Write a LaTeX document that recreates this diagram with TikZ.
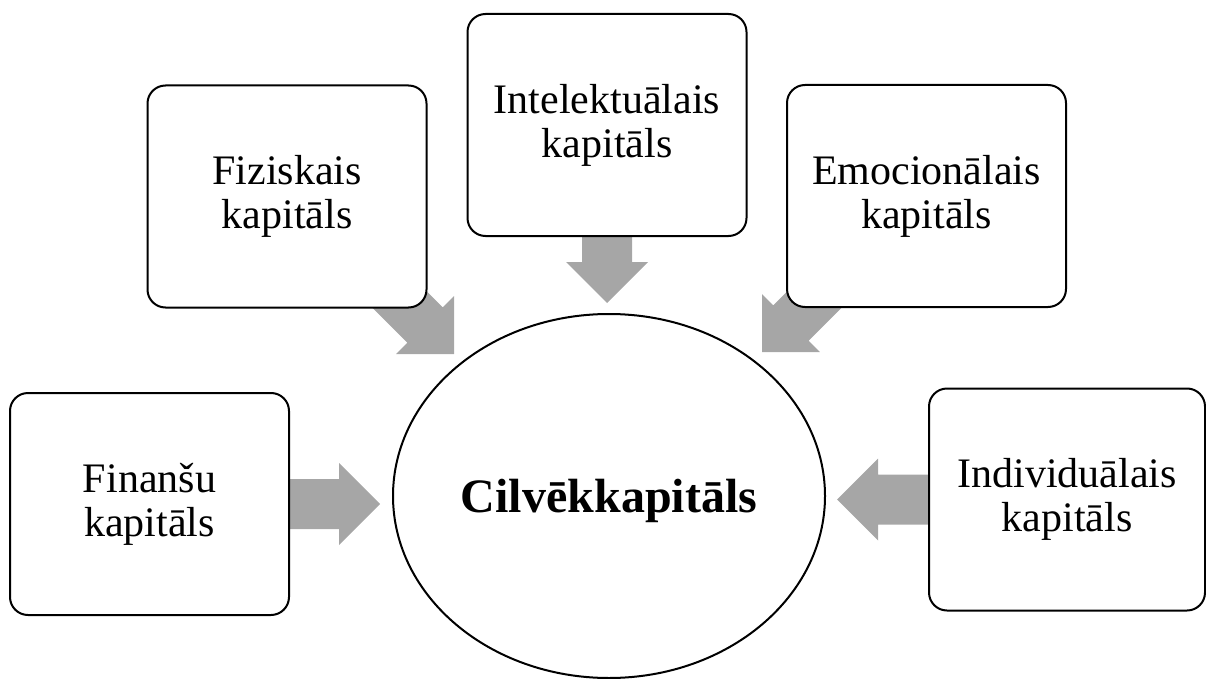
\documentclass[tikz,border=0pt]{standalone}
\usepackage{fontspec}
\setmainfont{Liberation Serif}
\usetikzlibrary{calc,shapes.geometric,backgrounds}
\definecolor{arrowgrey}{HTML}{A6A6A6}
\def\blockarrow(#1)(#2){\coordinate (headbase) at ($(#2)!41pt!(#1)$);
	\fill[arrowgrey] ($(#1)!25pt!90:(#2)$) -- ($(headbase)!25pt!-90:(#1)$) -- ($(headbase)!41pt!-90:(#1)$) -- (#2)
	-- ($(headbase)!41pt!90:(#1)$) -- ($(headbase)!25pt!90:(#1)$) -- ($(#1)!25pt!-90:(#2)$) -- cycle;}
\tikzset{
	capbox/.style={draw, line width=2pt, rounded corners=18pt, fill=white, minimum width=279pt, minimum height=222pt, inner sep=0pt, align=center, font=\fontsize{42}{44}\selectfont},
	corecirc/.style={ellipse, draw, line width=2pt, fill=white, minimum width=432pt, minimum height=364pt, inner sep=0pt, text height=33pt, text depth=0pt, font=\fontsize{48}{50}\selectfont\bfseries}
}

\begin{document}
\begin{tikzpicture}[x=1pt, y=-1pt]
			%%%%% START %%%%%
			\useasboundingbox (0, 0) rectangle (1206, 679);
			
			\node[capbox] (fin) at (149.5, 504) {Finanšu\\kapitāls};
			\node[capbox] (fiz) at (287, 196.5) {Fiziskais\\kapitāls};
			\node[capbox] (int) at (607, 125) {Intelektuālais\\kapitāls};
			\node[capbox] (emo) at (926.5, 196) {Emocionālais\\kapitāls};
			\node[capbox, minimum width=276pt] (ind) at (1067, 499.5) {Individuālais\\kapitāls};
			
			\node[corecirc] (hc) at (609, 496) {Cilvēkkapitāls};
			
			\coordinate (finTip) at (380, 504);
			\coordinate (fizTail) at (390, 290);
			\coordinate (fizTip) at (454, 354);
			\coordinate (intTip) at (607, 303);
			\coordinate (emoTail) at (826, 288);
			\coordinate (emoTip) at (762, 352);
			\coordinate (indTip) at (837, 499.5);
			
			\begin{scope}[on background layer]
				\blockarrow(fin.east)(finTip)
				\blockarrow(fizTail)(fizTip)
				\blockarrow(int.south)(intTip)
				\blockarrow(emoTail)(emoTip)
				\blockarrow(ind.west)(indTip)
			\end{scope}
			
			%%%%% END %%%%%
\end{tikzpicture}
\end{document}
